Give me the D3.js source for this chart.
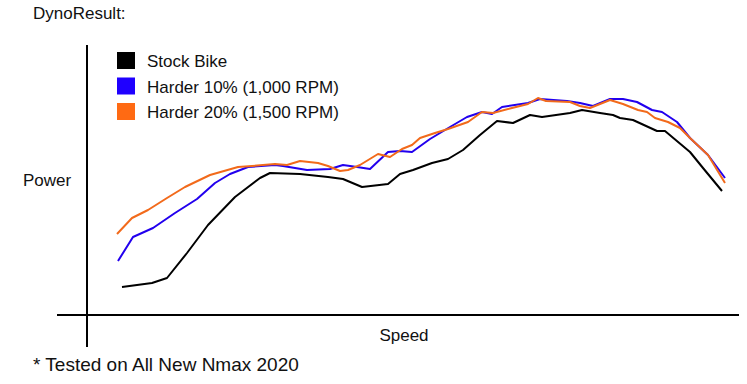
<!DOCTYPE html>
<html>
<head>
<meta charset="utf-8">
<script src="https://cdn.jsdelivr.net/npm/d3@7"></script>
<style>
  body { margin: 0; background: #fff; }
  text { font-family: "Liberation Sans", Arial, sans-serif; fill: #111; }
</style>
</head>
<body>
<script>
const w = 747;
const h = 384;

const seriesNames = ["Stock Bike", "Harder 10% (1,000 RPM)", "Harder 20% (1,500 RPM)"];
const seriesColors = ["#000000", "#2200ee", "#f26a1b"];

// [speed, power] pairs
const stockBike = [
  [7.0, 5.6], [13.0, 6.4], [16.0, 7.4], [20.0, 12.4], [24.2, 18.0], [29.6, 23.6],
  [34.6, 27.4], [36.6, 28.4], [42.6, 28.2], [48.2, 27.6], [51.2, 27.2], [55.0, 25.6],
  [60.2, 26.2], [62.6, 28.2], [65.2, 29.0], [69.0, 30.4], [72.2, 31.2], [75.2, 33.0],
  [78.6, 36.0], [82.0, 38.8], [85.2, 38.4], [88.6, 40.0], [91.0, 39.6], [96.6, 40.4],
  [99.0, 41.0], [102.6, 40.4], [105.2, 40.0], [106.6, 39.4], [109.2, 39.0], [114.0, 36.8],
  [115.6, 36.8], [120.6, 32.6], [123.2, 29.4], [127.0, 24.8]
];
const harder10 = [
  [6.2, 10.8], [9.2, 15.6], [13.2, 17.4], [17.6, 20.4], [22.0, 23.2], [25.6, 26.4],
  [28.6, 28.2], [32.2, 29.6], [37.6, 30.0], [39.2, 29.8], [44.0, 29.0], [48.6, 29.2],
  [51.2, 30.0], [54.0, 29.6], [56.6, 29.2], [60.2, 32.6], [62.6, 32.8], [65.0, 32.6],
  [68.6, 35.2], [72.6, 37.6], [76.0, 39.6], [79.0, 40.6], [81.0, 40.2], [83.0, 41.6],
  [88.2, 42.4], [90.6, 43.2], [96.0, 42.8], [98.6, 42.4], [101.2, 41.8], [104.6, 43.2],
  [107.2, 43.2], [110.0, 42.6], [113.0, 41.0], [115.0, 40.6], [118.0, 38.6], [120.6, 35.4],
  [124.2, 32.0], [127.6, 27.4]
];
const harder20 = [
  [6.0, 16.2], [9.0, 19.4], [12.2, 21.0], [16.0, 23.4], [19.6, 25.6], [24.6, 28.0],
  [30.2, 29.6], [33.0, 29.8], [37.6, 30.2], [40.0, 30.0], [42.6, 30.8], [46.2, 30.4],
  [48.2, 29.8], [50.6, 28.8], [52.2, 29.0], [54.6, 30.0], [58.2, 32.2], [60.6, 31.6],
  [63.0, 33.2], [65.0, 34.0], [66.6, 35.4], [69.6, 36.4], [72.2, 37.2], [76.2, 38.6],
  [79.0, 40.6], [81.2, 40.4], [85.0, 41.4], [88.2, 42.2], [90.2, 43.4], [91.8, 42.8],
  [96.6, 42.6], [98.6, 41.8], [100.6, 41.4], [104.6, 43.0], [107.2, 42.2], [110.2, 41.0],
  [112.0, 40.6], [113.6, 39.4], [116.2, 38.6], [118.6, 37.4], [120.6, 35.4], [124.2, 32.0],
  [127.6, 26.4]
];
const series = [stockBike, harder10, harder20];

const svg = d3.select("body").append("svg").attr("width", w).attr("height", h);

const xScale = d3.scaleLinear().domain([0, 131]).range([87, 742]);
const yScale = d3.scaleLinear().domain([0, 54]).range([315, 45]);

// axes: plain lines, no ticks
svg.append("line")
  .attr("x1", xScale(-6)).attr("x2", xScale(130.4))
  .attr("y1", yScale(0)).attr("y2", yScale(0))
  .attr("stroke", "#000").attr("stroke-width", 2);
svg.append("line")
  .attr("x1", xScale(0)).attr("x2", xScale(0))
  .attr("y1", yScale(54)).attr("y2", yScale(-6.4))
  .attr("stroke", "#000").attr("stroke-width", 2);

const line = d3.line()
  .x((d) => xScale(d[0]))
  .y((d) => yScale(d[1]));

// draw stock first, then blue, then orange on top
series.forEach((s, i) => {
  svg.append("path")
    .datum(s)
    .attr("d", line)
    .attr("fill", "none")
    .attr("stroke", seriesColors[i])
    .attr("stroke-width", 2)
    .attr("stroke-linejoin", "round");
});

svg.append("text").attr("x", 33).attr("y", 19).attr("font-size", 17).text("DynoResult:");
svg.append("text").attr("x", 23).attr("y", 186).attr("font-size", 17).text("Power");
svg.append("text").attr("x", 404).attr("y", 341).attr("font-size", 17)
  .attr("text-anchor", "middle").text("Speed");
svg.append("text").attr("x", 33).attr("y", 371).attr("font-size", 19)
  .text("* Tested on All New Nmax 2020");

const legend = svg.append("g").attr("transform", "translate(117, 52)");
seriesNames.forEach((name, i) => {
  legend.append("rect")
    .attr("x", 0).attr("y", i * 25.5)
    .attr("width", 18).attr("height", 17)
    .attr("fill", i === 2 ? "#ff6a13" : i === 1 ? "#1f00ff" : "#000");
  legend.append("text")
    .attr("x", 30).attr("y", i * 25.5 + 15)
    .attr("font-size", 17)
    .text(name);
});
</script>
</body>
</html>
